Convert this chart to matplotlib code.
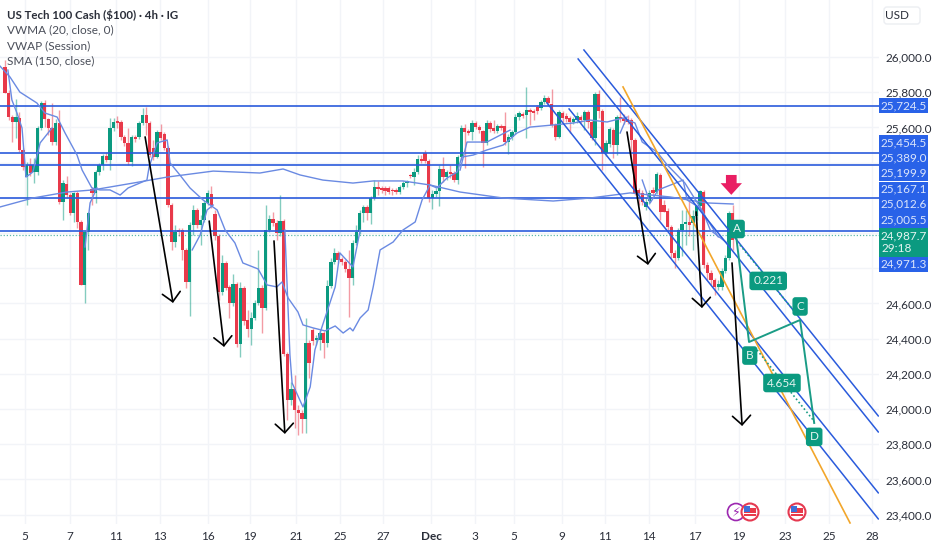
import numpy as np
import matplotlib
matplotlib.use('Agg')
import matplotlib.pyplot as plt
from matplotlib.patches import Circle, FancyBboxPatch, Rectangle

plt.rcParams['font.family'] = ['Lato', 'DejaVu Sans']

# candles, 4h bars
opens = [25943,25796,25659,25631,25654,25472,25318,25387,25347,25347,25597,25739,25648,25597,25517,25625,25176,25279,25216,25114,
 25228,25063,24705,25006,25250,25228,25347,25387,25438,25415,25597,25636,25631,25546,25512,25404,25546,25546,25625,25671,
 25625,25483,25432,25574,25563,25483,25159,24949,25017,25017,24904,24722,25046,25131,25046,25074,25171,25222,25108,24983,
 24665,24830,24694,24603,24711,24370,24688,24506,24455,24518,24603,24688,24574,25017,25080,25057,25000,25068,24313,24052,
 24114,23995,23978,23944,24376,24449,24393,24393,24432,24376,24699,24836,24887,24853,24836,24796,24745,24944,25006,25114,
 25148,25114,25199,25262,25256,25256,25256,25245,25245,25233,25262,25284,25330,25318,25347,25421,25455,25409,25199,25222,
 25239,25364,25318,25347,25341,25301,25432,25597,25580,25574,25625,25602,25580,25512,25625,25597,25580,25608,25608,25517,
 25546,25574,25659,25676,25671,25699,25693,25716,25710,25744,25767,25733,25614,25546,25682,25665,25654,25631,25642,25659,
 25642,25688,25631,25540,25790,25693,25455,25506,25585,25500,25659,25654,25648,25642,25529,25245,25228,25148,25182,25245,
 25233,25330,25159,25125,25034,24887,24858,25017,25051,25063,25057,25097,25154,25233,24819,24773,24733,24694,24694,24784,
 24858,25114]
closes = [25796,25659,25631,25659,25472,25375,25387,25341,25387,25597,25739,25648,25597,25517,25625,25176,25284,25216,25114,25228,
 25063,24705,25006,25114,25228,25347,25387,25438,25415,25597,25631,25625,25546,25512,25404,25546,25534,25625,25671,25625,
 25443,25432,25574,25540,25483,25159,24949,25006,25006,24904,24722,25046,25131,25046,25074,25171,25228,25159,24983,24665,
 24830,24688,24603,24711,24370,24688,24500,24455,24518,24603,24688,24574,25017,25080,25057,25000,25068,24313,24052,24114,
 23995,23978,23944,24376,24262,24387,24404,24432,24376,24699,24836,24887,24847,24836,24796,24745,24944,25006,25114,25148,
 25114,25199,25262,25250,25245,25239,25233,25239,25233,25262,25284,25296,25324,25347,25421,25409,25409,25199,25222,25239,
 25364,25318,25347,25335,25301,25432,25597,25574,25568,25625,25602,25585,25512,25625,25591,25580,25608,25597,25517,25546,
 25574,25659,25682,25665,25699,25688,25682,25693,25744,25767,25739,25614,25546,25688,25654,25648,25631,25648,25665,25642,
 25688,25631,25540,25790,25693,25455,25512,25591,25500,25659,25648,25636,25631,25529,25228,25222,25176,25176,25228,25228,
 25335,25120,25120,25034,24887,24858,25017,25051,25063,25046,25097,25154,25239,24819,24773,24733,24694,24711,24784,24858,
 25114,24961]
highs = [25983,25813,25671,25761,25688,25483,25404,25426,25426,25608,25750,25756,25654,25739,25648,25699,25301,25324,25228,25233,
 25239,25074,25012,25120,25262,25358,25398,25449,25460,25654,25654,25665,25642,25557,25597,25557,25557,25636,25710,25716,
 25636,25529,25585,25619,25574,25494,25171,25046,25029,25029,24915,25063,25159,25142,25103,25188,25245,25267,25131,24995,
 24875,24841,24705,24767,24722,24722,24699,24563,24552,24620,24904,24705,25159,25103,25120,25074,25216,25080,24324,24154,
 24194,24023,23995,24518,24393,24461,24421,24449,24444,24733,24858,24915,24898,24864,24847,24904,24961,25046,25131,25159,
 25159,25210,25301,25296,25267,25267,25267,25256,25256,25273,25296,25301,25335,25370,25443,25443,25472,25421,25245,25256,
 25387,25432,25358,25387,25352,25443,25614,25619,25591,25642,25636,25614,25585,25642,25636,25642,25619,25619,25688,25563,
 25585,25676,25693,25688,25830,25710,25705,25727,25756,25784,25778,25818,25625,25699,25693,25682,25665,25659,25688,25671,
 25699,25699,25642,25801,25813,25705,25529,25602,25597,25671,25773,25676,25671,25654,25540,25256,25245,25199,25245,25262,
 25347,25341,25188,25142,25046,24904,25029,25131,25131,25188,25131,25159,25245,25245,24836,24790,24745,24733,24802,24875,
 25125,25159]
lows = [25796,25642,25517,25540,25460,25358,25159,25324,25284,25330,25585,25602,25557,25500,25500,25165,25074,25199,25103,25063,
 25029,24705,24603,24904,25159,25171,25330,25358,25404,25358,25580,25597,25529,25494,25387,25381,25517,25534,25614,25557,
 25432,25415,25426,25529,25472,25148,24904,24921,24983,24847,24688,24529,24989,25029,24932,25063,25159,25142,24961,24620,
 24648,24677,24518,24586,24353,24296,24478,24410,24364,24506,24592,24432,24563,25006,25040,24961,24983,24302,23938,24023,
 23893,23853,23864,23864,24177,24364,24364,24336,24290,24353,24688,24824,24830,24819,24779,24523,24705,24932,24995,25063,
 25074,25051,25188,25216,25228,25216,25222,25216,25222,25222,25250,25262,25313,25273,25335,25398,25398,25176,25137,25205,
 25154,25290,25301,25313,25290,25279,25415,25370,25557,25529,25591,25568,25375,25500,25574,25568,25568,25585,25500,25449,
 25529,25563,25642,25654,25540,25614,25642,25676,25699,25733,25727,25602,25529,25540,25631,25631,25568,25619,25625,25625,
 25585,25597,25529,25500,25654,25358,25438,25489,25426,25443,25631,25619,25619,25415,25216,25159,25159,25131,25165,25216,
 25222,25074,25120,25017,24858,24802,24847,24870,24932,24983,24904,25074,25131,24802,24733,24705,24648,24677,24677,24773,
 24847,24904]

tick_pos = [5.5,18,30.7,42.8,56,67.7,80.4,92.5,104.4,117.7,129.8,140.6,153.9,165.7,177.9,190.6,202.8,215.5,227.6,239.5]
tick_lab = ['5','7','11','13','16','19','21','25','27','Dec','3','5','9','11','14','17','19','23','25','28']
price_ticks = [26000,25800,25600,25400,25200,25000,24800,24600,24400,24200,24000,23800,23600,23400]
hidden_ticks = [25400,25200,25000,24800]

vwma_x = [-1.4,1.4,4.1,8.8,11,14.4,16.6,19.9,21.3,24,26.2,29,31.8,34,39.2,39.8,42,44.8,45.6,48.3,51.1,54.7,58.6,60.8,63.5,65.7,69.9,72.4,
 75.1,76.5,78.2,80.9,82.3,85.1,88.4,91.2,93.4,95.3,96.1,98.1,100.3,101.7,103.6,107.2,109.9,113.3,115.2,117.4,119.3,122.1,124.9,
 126.2,129.3,133.1,137.6,141.4,145,151.4,156.9,161.6,166.3,170.7,174,176,180.1,182.9,187.8,192.8,194.8,199.4]
vwma_y = [25949,25886,25801,25739,25682,25659,25568,25443,25358,25256,25245,25245,25216,25256,25301,25375,25512,25529,25398,25330,25256,25188,25131,25017,24944,24830,24796,24705,
 24694,24722,24631,24552,24478,24461,24444,24472,24432,24461,24444,24518,24563,24694,24904,24949,25017,25063,25188,25273,25256,25313,25347,
 25432,25443,25472,25500,25568,25602,25614,25625,25642,25631,25654,25625,25517,25460,25387,25284,25120,25017,24944]

sma_x = [-1.4,7.7,17.1,24.3,35.4,44.8,57.5,70.4,76.8,81.5,87.8,96.1,101.7,109.9,117.4,125.7,137.6,151.4,161.6,172.7,183.7,193.9,201.1]
sma_y = [25148,25199,25233,25245,25284,25318,25352,25341,25364,25330,25301,25284,25296,25296,25273,25233,25199,25182,25199,25228,25205,25171,25165]

# vwap resets every session, nan breaks the line
vwap_x = [0.8,1.9,3.3,4.7,5.8,7.7,9.7,13,np.nan,22.1,23.5,25.4,np.nan,51.7,53.9,55.8,57.5,np.nan,
 77.3,78.7,79.3,82.3,84.3,85.6,87,91.2,92.5,96.1,98.1,np.nan,125.7,127.6,133.1,139.5,np.nan,169.9,171.8,np.nan,
 176,178.2,180.4,187.3,188.4,192,197]
vwap_y = [25926,25756,25682,25597,25318,25347,25512,25597,np.nan,24921,25171,25256,np.nan,24904,24989,25131,25159,np.nan,
 25017,24307,24148,24012,24126,24336,24432,24694,24887,24807,25017,np.nan,25358,25517,25517,25585,np.nan,25568,25659,np.nan,
 25301,25171,25245,25301,25188,25142,24978]

levels = [25724.5,25454.5,25389.0,25199.9,25012.6]
last_price = 24987.7

channel_x = [(159.9,241.2),(158.3,241.2),(155.8,241.2),(149.7,241.2)]
channel_y = [(26040,23961),(25989,23870),(25705,23524),(25739,23376)]
orange_x = [170.7,233.4]
orange_y = [25830,23353]

arrow_from = [(38.7,25546),(56.4,25068),(74.3,24955),(171.8,25574),(190.9,25120),(200.8,24830)]
arrow_to = [(46.4,24603),(60.5,24353),(77.3,23859),(177.6,24819),(192.5,24574),(203.6,23904)]

abcd_x = [201.9,205.5,219.6,223.5]
abcd_y = [24989,24381,24506,23921]
dots_x = [(203,217.7),(207.7,223.2)]
dots_y = [(24932,24563),(24336,23938)]
pattern_labels = ['A','B','C','D','0.221','4.654']
pattern_x = [202.2,205.7,219.6,223.5,210.8,214.6]
pattern_y = [25023,24304,24583,23842,24728,24148]

axis_boxes = ['25,724.5','25,454.5','25,389.0','25,199.9','25,167.1','25,012.6','25,005.5','24,971.3']
axis_box_y = [106,143,158,173,189,204,220,264]

RED = '#e8394a'
GREEN = '#0b9a80'
BLUE = '#2a5bdc'
LINE = '#6a8ae2'
TEAL = '#1a9c86'

fig = plt.figure(figsize=(9.32,5.5), dpi=100)
ax = fig.add_axes([0, 26/550, 879/932, 524/550])
ax.set_xlim(-1.38, 241.4)
ax.set_ylim(23347, 26324)
for s in ax.spines.values():
    s.set_visible(False)

ax.set_xticks(tick_pos)
ax.set_xticklabels(tick_lab, fontsize=8.5, color='#2a2e39')
for lab in ax.get_xticklabels():
    if lab.get_text() == 'Dec':
        lab.set_fontweight('bold')
ax.yaxis.tick_right()
ax.set_yticks(price_ticks)
ax.set_yticklabels(['' if p in hidden_ticks else f'{p:,.1f}' for p in price_ticks], fontsize=8.5, color='#2a2e39')
ax.tick_params(length=0)
ax.tick_params(axis='x', pad=5)
ax.tick_params(axis='y', pad=4.5)
ax.grid(color='#f2f4f8', lw=1)
ax.set_axisbelow(True)

# candles
x = np.arange(len(opens))
o = np.array(opens)
c = np.array(closes)
cols = [GREEN if b >= a else RED for a, b in zip(o, c)]
ax.vlines(x, lows, highs, colors=cols, lw=1, alpha=0.5, zorder=2)
ax.bar(x, np.abs(c-o), bottom=np.minimum(o, c), width=0.92, color=cols, zorder=3, linewidth=0)

# levels
for lv in levels:
    ax.axhline(lv, color=BLUE, lw=1.2, zorder=4)
ax.axhline(last_price, color=TEAL, lw=0.9, ls=(0,(1,1.5)), alpha=0.7, zorder=4)

# indicators
ax.plot(vwma_x, vwma_y, color=LINE, lw=1, zorder=5)
ax.plot(vwap_x, vwap_y, color=LINE, lw=1, zorder=5)
ax.plot(sma_x, sma_y, color=LINE, lw=1, zorder=5)

# drawings
for cx, cy in zip(channel_x, channel_y):
    ax.plot(cx, cy, color=BLUE, lw=1.1, zorder=6)
ax.plot(orange_x, orange_y, color='#f2a62b', lw=1.2, zorder=6)

for a, b in zip(arrow_from, arrow_to):
    ax.annotate('', xy=b, xytext=a, zorder=7,
                arrowprops=dict(arrowstyle='->,head_length=0.65,head_width=0.65', color='black', lw=1.2,
                                mutation_scale=10, shrinkA=0, shrinkB=0))

ax.plot(abcd_x, abcd_y, color=TEAL, lw=1.4, zorder=7)
for dx, dy in zip(dots_x, dots_y):
    ax.plot(dx, dy, color=TEAL, lw=1.2, ls=(0,(1,1.5)), zorder=7)
for lab, px_, py_ in zip(pattern_labels, pattern_x, pattern_y):
    ax.text(px_, py_, lab, fontsize=8.5, color='#e6f5f1', ha='center', va='center', zorder=8,
            bbox=dict(boxstyle='round,pad=0.32,rounding_size=0.25', fc=GREEN, ec='none'))

# red marker arrow
ax.annotate('', xy=(200.6,25217), xytext=(200.6,25330), zorder=8,
            arrowprops=dict(arrowstyle='simple,tail_width=0.55,head_width=1.1,head_length=0.6',
                            color='#e91e63', mutation_scale=14, shrinkA=0, shrinkB=0, lw=0))

# overlay in pixels for the axis tags, legend and event icons
ov = fig.add_axes([0,0,1,1], facecolor='none')
ov.set_xlim(0,932)
ov.set_ylim(550,0)
ov.axis('off')

ov.text(7,15,'US Tech 100 Cash ($100) · 4h · IG', fontsize=8.3, fontweight='bold', color='#2a2e39', va='center')
ov.text(7,30,'VWMA (20, close, 0)', fontsize=8.5, color='#4a4e59', va='center')
ov.text(7,46,'VWAP (Session)', fontsize=8.5, color='#4a4e59', va='center')
ov.text(7,61,'SMA (150, close)', fontsize=8.5, color='#4a4e59', va='center')

ov.add_patch(FancyBboxPatch((884,7),36,17,boxstyle='round,pad=0,rounding_size=3', fc='white', ec='#eceef2', lw=1))
ov.text(897,15.5,'USD', fontsize=8.5, color='#2a2e39', ha='center', va='center')

for rect in [(879,98,49,15),(879,135,49,46),(879,182,49,46),(879,257,49,15)]:
    ov.add_patch(Rectangle((rect[0],rect[1]),rect[2],rect[3], fc='#2962e8', ec='none'))
ov.add_patch(Rectangle((879,228),49,29, fc=GREEN, ec='none'))
for lab, yy in zip(axis_boxes, axis_box_y):
    ov.text(904,yy,lab, fontsize=8.5, color='#dbe5fb', ha='center', va='center')
ov.text(904,236,'24,987.7', fontsize=8.5, color='#e6f5f1', ha='center', va='center')
ov.text(897,249,'29:18', fontsize=8.5, color='#e6f5f1', ha='center', va='center')

# event icons
ov.add_patch(Circle((736,512),8.5,fc='white',ec='#9c27b0',lw=1.2))
ov.text(736,512,'⚡',fontsize=9,color='#9c27b0',ha='center',va='center',family=['DejaVu Sans'])
for cx_ in [750,797]:
    ov.add_patch(Circle((cx_,512),8.5,fc='white',ec='#e53950',lw=1.5))
    ov.add_patch(Rectangle((cx_-6,508),12,8,fc='#e8394a',ec='none'))
    ov.add_patch(Rectangle((cx_-6,506),6,6,fc='#3f6fd8',ec='none'))
    ov.add_patch(Rectangle((cx_-6,513),12,1,fc='white',ec='none'))

fig.savefig('out.png', dpi=100)
